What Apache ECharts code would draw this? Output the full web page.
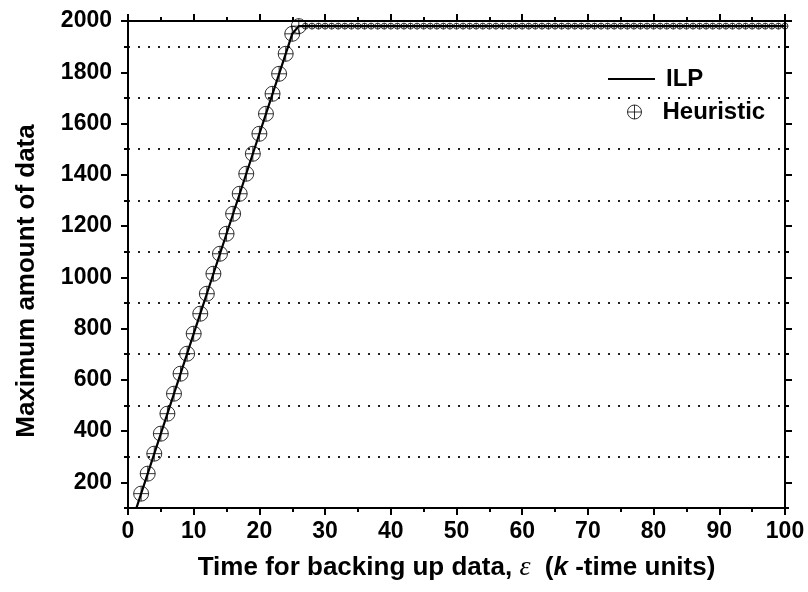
<!DOCTYPE html>
<html>
<head>
<meta charset="utf-8">
<script src="https://cdn.jsdelivr.net/npm/echarts@6/dist/echarts.min.js"></script>
<style>html,body{margin:0;padding:0;background:#fff}#c{width:808px;height:592px}</style>
</head>
<body>
<div id="c"></div>
<script>
// ---- data ----
const ilpEps = [1,2,3,4,5,6,7,8,9,10,11,12,13,14,15,16,17,18,19,20,21,22,23,24,25,26,100];
const ilpValues = [78,156,234,312,390,468,546,624,702,780,858,936,1014,1092,1170,1248,1326,1404,1482,1560,1638,1716,1794,1872,1950,1980,1980];
const heurEps = [2,3,4,5,6,7,8,9,10,11,12,13,14,15,16,17,18,19,20,21,22,23,24,25,26];
const heurValues = [156,234,312,390,468,546,624,702,780,858,936,1014,1092,1170,1248,1326,1404,1482,1560,1638,1716,1794,1872,1950,1980];
const heurFlatEps = [27,28,29,30,31,32,33,34,35,36,37,38,39,40,41,42,43,44,45,46,47,48,49,50,
  51,52,53,54,55,56,57,58,59,60,61,62,63,64,65,66,67,68,69,70,71,72,73,74,75,
  76,77,78,79,80,81,82,83,84,85,86,87,88,89,90,91,92,93,94,95,96,97,98,99,100];
const heurFlatValues = [1980,1980,1980,1980,1980,1980,1980,1980,1980,1980,1980,1980,1980,1980,1980,1980,1980,1980,1980,1980,1980,1980,1980,1980,
  1980,1980,1980,1980,1980,1980,1980,1980,1980,1980,1980,1980,1980,1980,1980,1980,1980,1980,1980,1980,1980,1980,1980,1980,1980,
  1980,1980,1980,1980,1980,1980,1980,1980,1980,1980,1980,1980,1980,1980,1980,1980,1980,1980,1980,1980,1980,1980,1980,1980,1980];
const yMajorTicks = [200,400,600,800,1000,1200,1400,1600,1800,2000];
const seriesNames = ['ILP', 'Heuristic'];
const xTitle = 'Time for backing up data, ';
const yTitle = 'Maximum amount of data';

// ---- chart ----
const FONT = '"Liberation Sans", Arial, sans-serif';
const OPLUS = 'path://M0,10A10,10,0,1,1,20,10A10,10,0,1,1,0,10ZM0,10L20,10M10,0L10,20';
const zip = (xs, ys) => xs.map((x, i) => [x, ys[i]]);
const black = '#000';

const chart = echarts.init(document.getElementById('c'), null, {renderer: 'canvas'});

const xBase = {
  type: 'value', min: 0, max: 100, interval: 10,
  axisLine: {show: true, onZero: false, lineStyle: {color: black, width: 2}},
  axisTick: {show: true, length: 7, lineStyle: {color: black, width: 2}},
  minorTick: {show: true, splitNumber: 2, length: 4, lineStyle: {color: black, width: 2}},
  splitLine: {show: false}
};
const yMajor = {
  type: 'value', min: 100, max: 2000,
  axisLine: {show: true, onZero: false, lineStyle: {color: black, width: 2}},
  axisTick: {show: true, length: 7, customValues: yMajorTicks, lineStyle: {color: black, width: 2}},
  splitLine: {show: false}
};
const yMinor = {
  type: 'value', min: 100, max: 2000, interval: 200,
  axisLine: {show: false, onZero: false},
  axisTick: {show: true, length: 4, lineStyle: {color: black, width: 2}},
  axisLabel: {show: false},
  splitLine: {show: false}
};

const option = {
  animation: false,
  backgroundColor: '#fff',
  grid: {left: 128, right: 23, top: 21, bottom: 84, containLabel: false},
  legend: [
    {
      data: [{name: seriesNames[0], icon: 'rect', itemStyle: {color: black}}],
      left: 603, top: 62,
      itemWidth: 47, itemHeight: 2,
      textStyle: {fontFamily: FONT, fontSize: 24, fontWeight: 'bold', color: black, padding: [0, 0, 0, 6]}
    },
    {
      data: [{name: seriesNames[1], icon: OPLUS, itemStyle: {color: 'rgba(0,0,0,0)', borderColor: black, borderWidth: 1}}],
      left: 622, top: 95,
      itemWidth: 14, itemHeight: 14,
      textStyle: {fontFamily: FONT, fontSize: 24, fontWeight: 'bold', color: black, padding: [0, 0, 0, 16]}
    }
  ],
  xAxis: [
    Object.assign({}, xBase, {
      position: 'bottom',
      axisLabel: {show: true, margin: 12, fontFamily: FONT, fontSize: 23, fontWeight: 'bold', color: black},
      name: '{a|' + xTitle + '}{e|ε}{a|  (}{k|k}{a| -time units)}',
      nameLocation: 'middle', nameGap: 46,
      nameTextStyle: {
        rich: {
          a: {fontFamily: FONT, fontSize: 26, fontWeight: 'bold', color: black},
          e: {fontFamily: '"Liberation Serif", serif', fontSize: 28, fontStyle: 'italic', color: black},
          k: {fontFamily: FONT, fontSize: 26, fontWeight: 'bold', fontStyle: 'italic', color: black}
        }
      }
    }),
    Object.assign({}, xBase, {position: 'top', axisLabel: {show: false}})
  ],
  yAxis: [
    Object.assign({}, yMajor, {
      position: 'left',
      axisLabel: {show: true, customValues: yMajorTicks, margin: 16, fontFamily: FONT, fontSize: 23, fontWeight: 'bold', color: black,
        formatter: function (v) { return String(v); }},
      name: yTitle, nameLocation: 'middle', nameGap: 88, nameRotate: 90,
      nameTextStyle: {fontFamily: FONT, fontSize: 26, fontWeight: 'bold', color: black, padding: [0, 33, 0, 0]}
    }),
    Object.assign({}, yMinor, {
      position: 'left',
      splitLine: {show: true, lineStyle: {color: '#222', width: 2, type: [2, 8]}}
    }),
    Object.assign({}, yMajor, {position: 'right', axisLabel: {show: false}}),
    Object.assign({}, yMinor, {position: 'right'})
  ],
  series: [
    {
      name: seriesNames[1], type: 'scatter', xAxisIndex: 0, yAxisIndex: 0, z: 2,
      symbol: OPLUS, symbolSize: 15,
      itemStyle: {color: 'rgba(0,0,0,0)', borderColor: black, borderWidth: 1},
      data: zip(heurEps, heurValues)
    },
    {
      name: seriesNames[1], type: 'scatter', xAxisIndex: 0, yAxisIndex: 0, z: 2,
      symbol: OPLUS, symbolSize: 6,
      itemStyle: {color: 'rgba(0,0,0,0)', borderColor: black, borderWidth: 1},
      data: zip(heurFlatEps, heurFlatValues)
    },
    {
      name: seriesNames[0], type: 'line', xAxisIndex: 0, yAxisIndex: 0, z: 3,
      symbol: 'none', clip: true,
      lineStyle: {color: black, width: 2.2},
      itemStyle: {color: black},
      data: zip(ilpEps, ilpValues)
    }
  ]
};
chart.setOption(option);
</script>
</body>
</html>
